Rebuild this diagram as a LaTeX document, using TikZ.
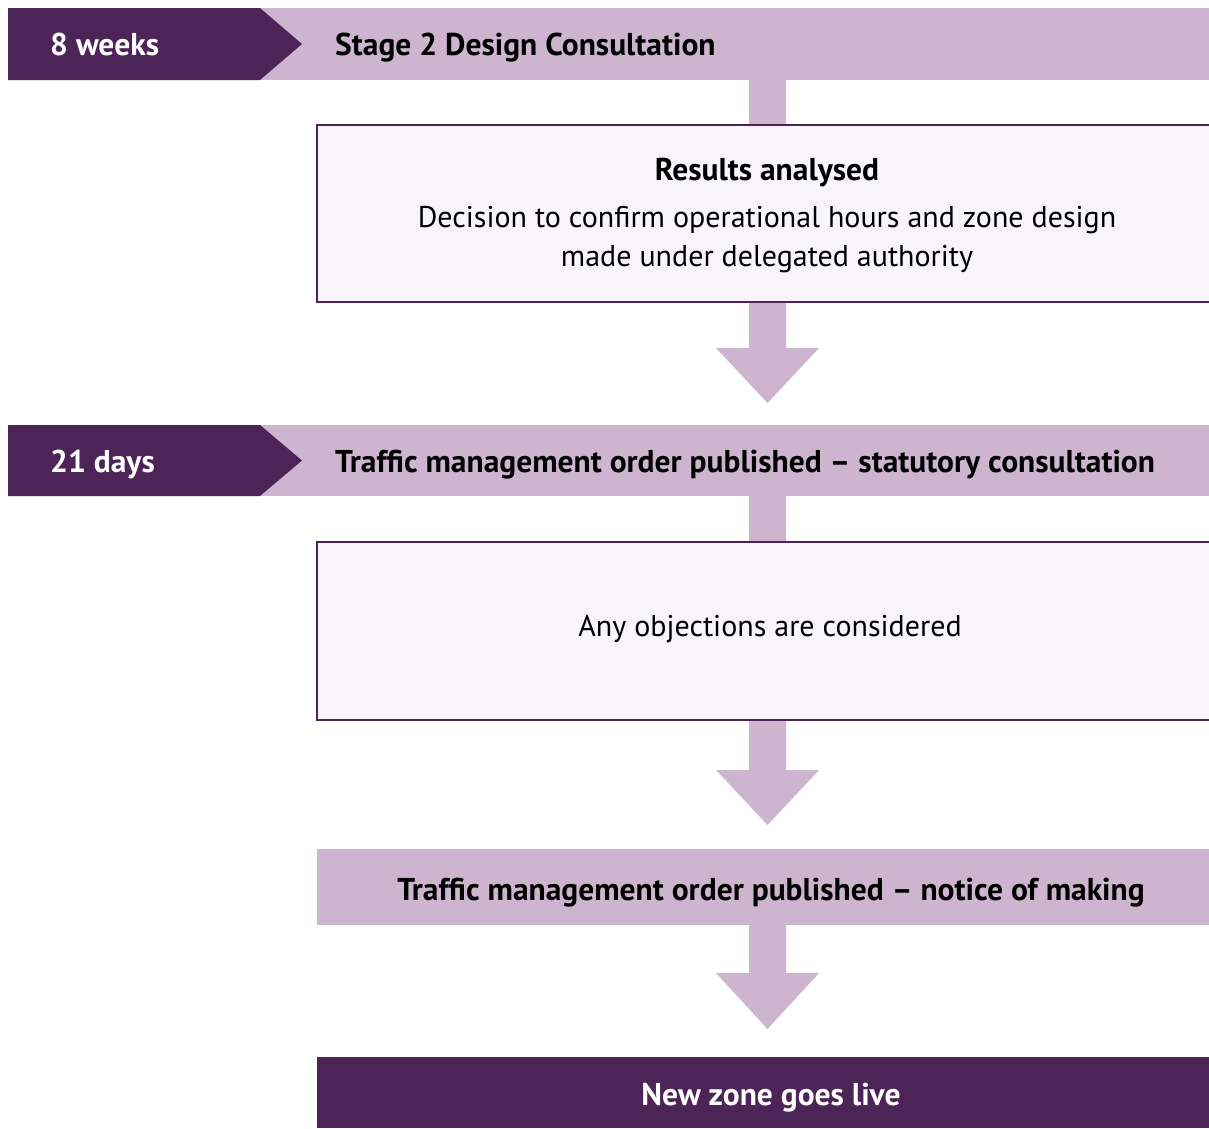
\documentclass[tikz,border=0pt]{standalone}
\usepackage{fontspec}
\setmainfont{PT Sans}
\definecolor{dpurple}{HTML}{4D2457}
\definecolor{lpurple}{HTML}{CDB4CF}
\definecolor{boxfill}{HTML}{F7F5F9}
\tikzset{
  lightband/.style={fill=lpurple, inner sep=0pt, anchor=north west},
  darkband/.style={fill=dpurple, inner sep=0pt, anchor=north west},
  boldtxt/.style={font=\fontsize{31.5}{37}\selectfont\bfseries, inner sep=0pt},
  regtxt/.style={font=\fontsize{30}{39}\selectfont, inner sep=0pt},
  boxline/.style={draw=dpurple, line width=2.4pt},
  blockarrow/.style={fill=lpurple}
}
\begin{document}
\begin{tikzpicture}[x=1pt,y=-1pt]
\useasboundingbox (0,0) rectangle (1209,1128);
\fill[white] (0,0) rectangle (1209,1128);

% band 1
\node[lightband, minimum width=949, minimum height=72] (band1) at (260,8) {};
\fill[dpurple] (8,8) -- (260,8) -- (302,44) -- (260,80) -- (8,80) -- cycle;
\node[boldtxt, text=white, anchor=base west] (dur1) at (50,55) {8 weeks};
\node[boldtxt, anchor=base west] (stage1) at (335,55) {Stage 2 Design Consultation};

% stem to box 1
\fill[lpurple] (749,80) rectangle (786,125);

% box 1
\fill[boxfill] (317,125) rectangle (1209,302);
\draw[boxline] (1212,125) -- (317,125) -- (317,302) -- (1212,302);
\node[boldtxt, anchor=base] (res) at (767,180) {Results analysed};
\node[regtxt, anchor=base] (dec) at (767,227) {Decision to confirm operational hours and zone design};
\node[regtxt, anchor=base] (dec2) at (767,266) {made under delegated authority};

% arrow 1
\fill[blockarrow] (749,303) -- (786,303) -- (786,348) -- (819,348) -- (767.5,403) -- (716,348) -- (749,348) -- cycle;

% band 2
\node[lightband, minimum width=949, minimum height=71] (band2) at (260,425) {};
\fill[dpurple] (8,425) -- (260,425) -- (302,460.5) -- (260,496) -- (8,496) -- cycle;
\node[boldtxt, text=white, anchor=base west] (dur2) at (50,472) {21 days};
\node[boldtxt, anchor=base west] (stage2) at (335,472) {Traffic management order published – statutory consultation};

% stem to box 2
\fill[lpurple] (749,496) rectangle (786,542);

% box 2
\fill[boxfill] (317,542) rectangle (1209,720);
\draw[boxline] (1212,542) -- (317,542) -- (317,720) -- (1212,720);
\node[regtxt, anchor=base] (obj) at (770,636) {Any objections are considered};

% arrow 2
\fill[blockarrow] (749,721) -- (786,721) -- (786,770) -- (819,770) -- (767.5,825) -- (716,770) -- (749,770) -- cycle;

% band 3
\node[lightband, minimum width=892, minimum height=76] (band3) at (317,849) {};
\node[boldtxt, anchor=base] (notice) at (771,900) {Traffic management order published – notice of making};

% arrow 3
\fill[blockarrow] (749,925) -- (786,925) -- (786,973) -- (819,973) -- (767.5,1029) -- (716,973) -- (749,973) -- cycle;

% final
\node[darkband, minimum width=892, minimum height=71] (final) at (317,1057) {};
\node[boldtxt, text=white, anchor=base] (live) at (771,1105) {New zone goes live};
\end{tikzpicture}
\end{document}
